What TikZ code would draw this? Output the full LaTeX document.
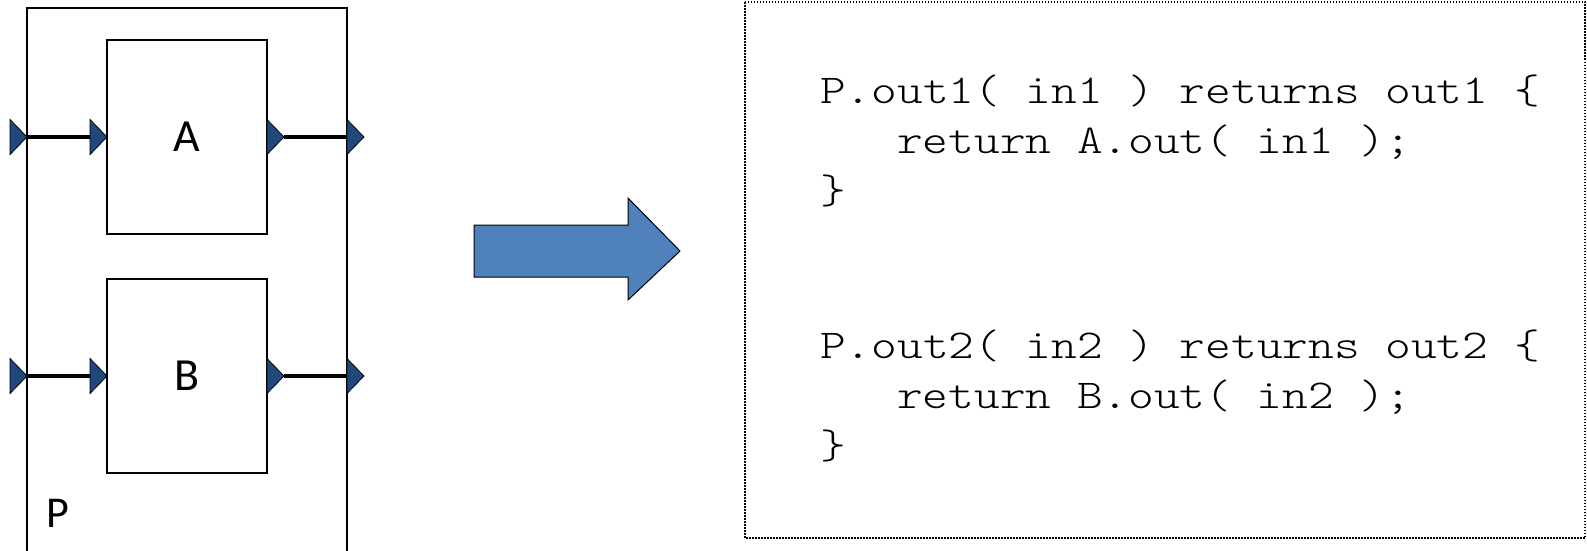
\documentclass[tikz,border=0pt]{standalone}
\usepackage{fontspec}
\newfontfamily\labelfont{Carlito}
\newfontfamily\codefont[FakeStretch=1.194]{lmmonolt10-regular.otf}
\usetikzlibrary{positioning}
\usetikzlibrary{shapes.geometric}

\definecolor{portblue}{HTML}{1F497D}
\definecolor{arrowblue}{HTML}{4F81BD}

\begin{document}
\begin{tikzpicture}[x=1pt, y=-1pt,
    blocknode/.style={rectangle, draw=black, line width=2pt, minimum width=160pt, minimum height=194pt, inner sep=0pt, outer sep=0pt, font=\labelfont\fontsize{46}{46}\selectfont},
    portnode/.style={isosceles triangle, isosceles triangle stretches, shape border rotate=0, minimum width=35pt, minimum height=17pt, inner sep=0pt, outer sep=0pt, draw=black, line width=0.8pt, fill=portblue},
    wire/.style={line width=4.5pt, black},
    codeline/.style={anchor=base west, inner sep=0pt, font=\codefont\fontsize{41}{51}\selectfont}]
        \useasboundingbox (0,0) rectangle (1587,550);

        % outer block P (open at the bottom)
        \coordinate (Pleft) at (27,0);
        \coordinate (Pright) at (347,0);
        \draw[line width=2pt] (27,552) -- (27,8) -- (347,8) -- (347,552);
        \node[anchor=base west, inner sep=0pt, font=\labelfont\fontsize{44}{44}\selectfont] (labelP) at (46,527) {P};

        \node[blocknode] (blockA) at (187,137) {A};
        \node[blocknode] (blockB) [below=45pt of blockA] {B};

        \node[portnode, anchor=apex] (pinA) at (blockA.west -| Pleft) {};
        \node[portnode, anchor=apex] (inA) at (blockA.west) {};
        \node[portnode, anchor=west] (outA) at (blockA.east) {};
        \node[portnode, anchor=west] (poutA) at (blockA.east -| Pright) {};
        \node[portnode, anchor=apex] (pinB) at (blockB.west -| Pleft) {};
        \node[portnode, anchor=apex] (inB) at (blockB.west) {};
        \node[portnode, anchor=west] (outB) at (blockB.east) {};
        \node[portnode, anchor=west] (poutB) at (blockB.east -| Pright) {};

        \draw[wire] (pinA.apex) -- (inA.west);
        \draw[wire] (outA.apex) -- (poutA.west);
        \draw[wire] (pinB.apex) -- (inB.west);
        \draw[wire] (outB.apex) -- (poutB.west);

        % block arrow
        \draw[fill=arrowblue, line width=1pt, line join=miter] (474,225) -- (628,225) -- (628,198) -- (680,251)
            -- (628,300) -- (628,277) -- (474,277) -- cycle;

        % code box
        \draw[line width=1.5pt, dash pattern=on 1.5pt off 1.5pt] (745,2) rectangle (1585,538);
        \node[codeline] (code1) at (820,103) {P.out1( in1 ) returns out1 \{};
        \node[codeline] (code2) at (897,153) {return A.out( in1 );};
        \node[codeline] (code3) at (820,203) {\}};
        \node[codeline] (code4) at (820,358) {P.out2( in2 ) returns out2 \{};
        \node[codeline] (code5) at (897,408) {return B.out( in2 );};
        \node[codeline] (code6) at (820,458) {\}};
    \end{tikzpicture}
\end{document}
